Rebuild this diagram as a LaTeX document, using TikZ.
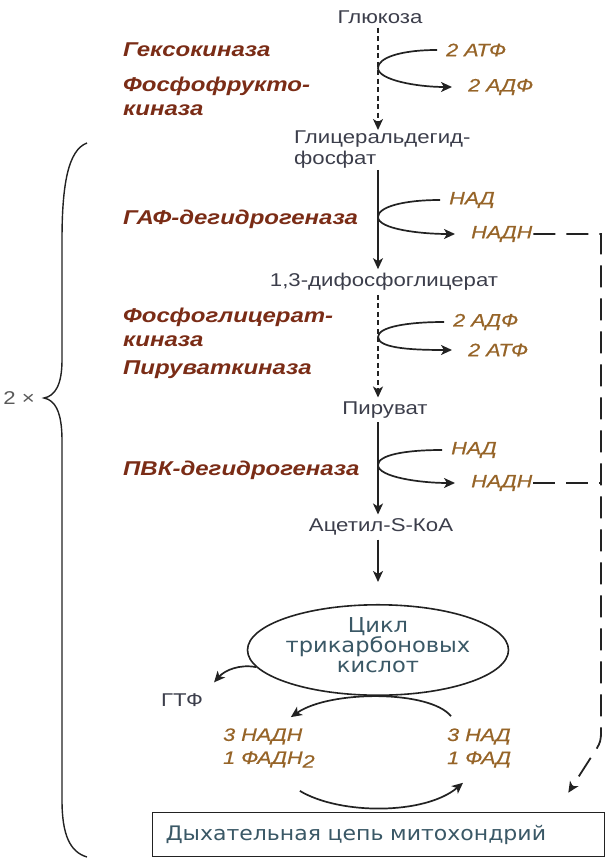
\documentclass[tikz,border=0pt]{standalone}
\usepackage{fontspec}
\setmainfont{Liberation Sans}
\newfontfamily\arialw[FakeStretch=1.2]{Liberation Sans}
\newfontfamily\arialc[FakeStretch=1.2,FakeBold=0.6]{Liberation Sans}
\newfontfamily\verdw[FakeStretch=1.1]{DejaVu Sans}
\usetikzlibrary{arrows.meta,shapes.geometric}

\definecolor{enzcol}{RGB}{122,44,22}
\definecolor{cofcol}{RGB}{150,100,40}
\definecolor{metcol}{RGB}{60,62,75}
\definecolor{tcacol}{RGB}{58,88,102}
\definecolor{lncol}{RGB}{34,34,34}

\tikzset{
  enz/.style={anchor=west, align=left, inner sep=1pt, text=enzcol,
    font=\arialw\bfseries\itshape\fontsize{20}{24}\selectfont},
  cof/.style={anchor=west, align=left, inner sep=1pt, text=cofcol,
    font=\arialc\itshape\fontsize{18}{23}\selectfont},
  met/.style={inner sep=4pt, text=metcol, font=\arialw\fontsize{18.5}{21}\selectfont},
  arr/.style={draw=lncol, line width=1.7pt, -{Stealth[length=11pt,width=10pt,inset=3pt]}},
  dots/.style={dash pattern=on 5pt off 3.5pt},
  tcagap/.style={shorten >=22pt},
  longdash/.style={dash pattern=on 22pt off 11pt},
}

\begin{document}
\begin{tikzpicture}[x=1pt,y=-1pt]
    \useasboundingbox (0,0) rectangle (610,858);
    \coordinate (mid) at (378,0);
    \coordinate (rt) at (601,0);

    % metabolites
    \node[met] (glc) at (380,17) {Глюкоза};
    \node[met, anchor=west, align=left, inner sep=1pt] (gap) at (293,150) {Глицеральдегид-\\фосфат};
    \node[met] (bpg) at (384,282) {1,3-дифосфоглицерат};
    \node[met] (pyr) at (385,410) {Пируват};
    \node[met] (acoa) at (381,527) {Ацетил-S-КоА};
    \node[ellipse, draw=lncol, line width=1.6pt, minimum width=258pt, minimum height=75pt,
          inner sep=0pt, text depth=9pt, align=center, text=tcacol,
          font=\verdw\fontsize{20.5}{20}\selectfont]
          (tca) at (378,650) {Цикл\\трикарбоновых\\кислот};
    \node[met] (gtp) at (182,700) {ГТФ};
    \node[draw=lncol, line width=1.6pt, text width=426pt, inner xsep=13pt, minimum height=44pt,
          align=left, text=tcacol, font=\verdw\fontsize{20}{22}\selectfont]
          (resp) at (378.5,834.5) {Дыхательная цепь митохондрий};

    % enzymes
    \node[enz] (hk) at (122,50) {Гексокиназа};
    \node[enz] (pfk) at (122,96) {Фосфофрукто-\\киназа};
    \node[enz] (gapdh) at (122,219) {ГАФ-дегидрогеназа};
    \node[enz] (pgk) at (122,327) {Фосфоглицерат-\\киназа};
    \node[enz] (pk) at (122,370) {Пируваткиназа};
    \node[enz] (pdh) at (122,470) {ПВК-дегидрогеназа};

    % cofactors
    \node[cof] (atp1) at (445,50) {2 АТФ};
    \node[cof] (adp1) at (467,87) {2 АДФ};
    \node[cof] (nad1) at (448,200) {НАД};
    \node[cof] (nadh1) at (470,234) {НАДН};
    \node[cof] (adp2) at (452,322) {2 АДФ};
    \node[cof] (atp2) at (467,350) {2 АТФ};
    \node[cof] (nad2) at (450,450) {НАД};
    \node[cof] (nadh2) at (470,483) {НАДН};
    \node[cof] (nadh3) at (222,748) {3 НАДН\\1 ФАДН\raisebox{-0.4ex}{2}};
    \node[cof] (nad3) at (446,748) {3 НАД\\1 ФАД};
    \node[met, text=black!65] (twice) at (19,398) {2 ×};

    % main chain
    \foreach \a/\b/\s in {glc/gap/dots, gap/bpg/solid, bpg/pyr/dots, pyr/acoa/solid, acoa/tca/tcagap}
        \draw[arr,\s] (\a.south -| mid) -- (\b.north -| mid);

    % side reactions
    \foreach \n/\y in {1/68, 2/217, 3/337, 4/465}
        \coordinate (j\n) at (378,\y);
    \foreach \u/\d/\n in {atp1/adp1/1, nad1/nadh1/2, adp2/atp2/3, nad2/nadh2/4}
        \draw[arr, shorten <=8pt, shorten >=15pt] (\u.west)
            .. controls ([xshift=-45pt]\u.west) and ([yshift=10pt]j\n) .. (j\n)
            .. controls ([yshift=-12pt]j\n) and ([xshift=-50pt]\d.west) .. (\d.west);

    % NADH to respiratory chain
    \draw[arr, longdash, line width=1.8pt] (nadh1.east) -- (nadh1.east -| rt) -- (601,732)
        .. controls (601,740) and (600,743) .. (597,748)
        -- ([shift={(-37pt,19pt)}]resp.north east);
    \draw[lncol, longdash, line width=1.8pt] (nadh2.east) -- (nadh2.east -| rt);

    % citric acid cycle
    \draw[arr] (tca.188) .. controls (240,664) and (225,670) .. ([shift={(7pt,7pt)}]gtp.north east);
    \draw[arr] ([shift={(5pt,11pt)}]nad3.north west) .. controls (430,690) and (330,690)
        .. ([shift={(-25pt,10pt)}]nadh3.north east);
    \draw[arr] ([shift={(-16pt,-22pt)}]nadh3.south east) .. controls (340,815) and (425,815)
        .. ([shift={(17pt,-14pt)}]nad3.south west);

    % brace
    \draw[lncol, line width=1.4pt] (87,143) .. controls (68,150) and (62,185) .. (62,240)
        -- (62,360) .. controls (62,385) and (55,396) .. (44,398)
        .. controls (55,400) and (62,412) .. (62,440) -- (62,800)
        .. controls (62,835) and (70,852) .. (87,857);
\end{tikzpicture}
\end{document}
